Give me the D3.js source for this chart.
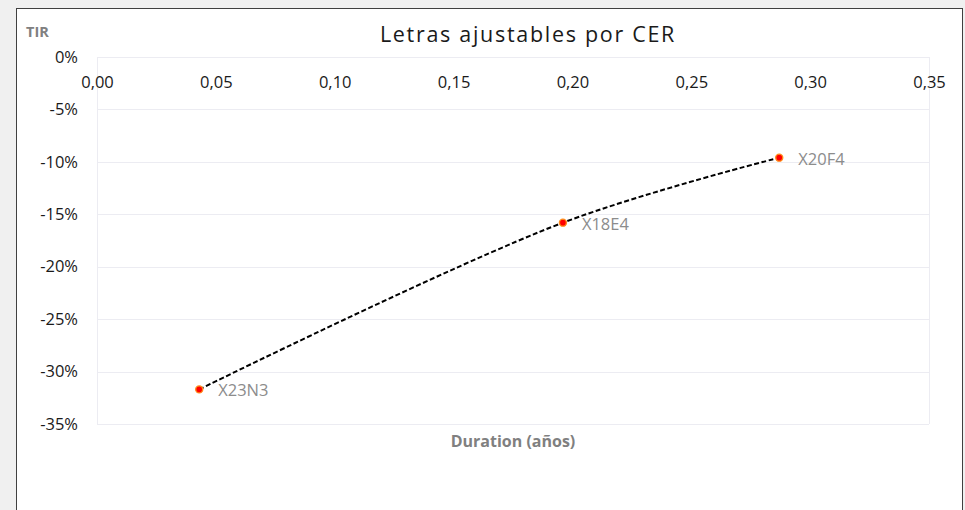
<!DOCTYPE html>
<html>
<head>
<meta charset="utf-8">
<script src="https://cdn.jsdelivr.net/npm/d3@7"></script>
<style>
  body { margin: 0; background: #f0f0f0; }
  svg { display: block; font-family: "Open Sans", "Liberation Sans", sans-serif; }
</style>
</head>
<body>
<div id="chart"></div>
<script>
const letras = ['X23N3', 'X18E4', 'X20F4'];
const duration = [0.043, 0.196, 0.287];
const tir = [-0.317, -0.158, -0.096];
const xTicks = [0, 0.05, 0.10, 0.15, 0.20, 0.25, 0.30, 0.35];
const yTicks = [0, -0.05, -0.10, -0.15, -0.20, -0.25, -0.30, -0.35];

const width = 965, height = 510;
const plot = { left: 97, right: 929, top: 57, bottom: 424 };

const svg = d3.select('#chart').append('svg')
  .attr('width', width)
  .attr('height', height);

// chart frame
svg.append('rect')
  .attr('x', 16.5).attr('y', 8.5)
  .attr('width', 946).attr('height', 520)
  .attr('fill', '#fff')
  .attr('stroke', '#404040')
  .attr('stroke-width', 1);

const x = d3.scaleLinear().domain([0, 0.35]).range([plot.left, plot.right]);
const y = d3.scaleLinear().domain([0, -0.35]).range([plot.top, plot.bottom]);

// gridlines
svg.append('g')
  .selectAll('line')
  .data(yTicks)
  .enter().append('line')
  .attr('x1', plot.left).attr('x2', plot.right)
  .attr('y1', d => Math.round(y(d)) + 0.5)
  .attr('y2', d => Math.round(y(d)) + 0.5)
  .attr('stroke', '#ececf2');

// side lines of plot area
svg.append('g')
  .selectAll('line')
  .data([0, 0.35])
  .enter().append('line')
  .attr('x1', d => Math.round(x(d)) + 0.5)
  .attr('x2', d => Math.round(x(d)) + 0.5)
  .attr('y1', plot.top).attr('y2', plot.bottom)
  .attr('stroke', '#ececf2');

// y axis labels
const fmtPct = d => `${Math.round(d * 100)}%`;
svg.append('g')
  .attr('transform', `translate(${plot.left - 19},0)`)
  .call(d3.axisLeft(y).tickValues(yTicks).tickFormat(fmtPct).tickSize(0).tickPadding(0))
  .call(g => g.select('.domain').remove())
  .selectAll('text')
  .attr('font-size', 16.5)
  .attr('fill', '#1a1a1a')
  .attr('font-family', 'Open Sans, sans-serif');

// x axis labels (placed below the 0% line)
const fmtNum = d => d.toFixed(2).replace('.', ',');
svg.append('g')
  .attr('transform', `translate(0,${y(0) + 19})`)
  .call(d3.axisBottom(x).tickValues(xTicks).tickFormat(fmtNum).tickSize(0).tickPadding(0))
  .call(g => g.select('.domain').remove())
  .selectAll('text')
  .attr('font-size', 16.5)
  .attr('fill', '#1a1a1a')
  .attr('font-family', 'Open Sans, sans-serif');

// title
svg.append('text')
  .attr('x', 528).attr('y', 42)
  .attr('text-anchor', 'middle')
  .attr('font-size', 21.5)
  .attr('letter-spacing', 1.7)
  .attr('fill', '#1a1a1a')
  .attr('font-family', 'Open Sans, sans-serif')
  .text('Letras ajustables por CER');

// axis titles
svg.append('text')
  .attr('x', 26).attr('y', 37)
  .attr('font-size', 14.5)
  .attr('font-weight', 'bold')
  .attr('fill', '#808080')
  .attr('font-family', 'Open Sans, sans-serif')
  .text('TIR');

svg.append('text')
  .attr('x', 513).attr('y', 447)
  .attr('text-anchor', 'middle')
  .attr('font-size', 16)
  .attr('font-weight', 'bold')
  .attr('fill', '#808080')
  .attr('font-family', 'Open Sans, sans-serif')
  .text('Duration (años)');

const points = letras.map((name, i) => ({ name, dur: duration[i], tir: tir[i] }));

// smoothed dashed line
const line = d3.line()
  .x(d => x(d.dur))
  .y(d => y(d.tir))
  .curve(d3.curveCatmullRom.alpha(0.5));

svg.append('path')
  .datum(points)
  .attr('d', line)
  .attr('fill', 'none')
  .attr('stroke', '#000')
  .attr('stroke-width', 2)
  .attr('stroke-dasharray', '5,2.5');

// markers
svg.append('g')
  .selectAll('circle')
  .data(points)
  .enter().append('circle')
  .attr('cx', d => x(d.dur))
  .attr('cy', d => y(d.tir))
  .attr('r', 3.5)
  .attr('fill', '#ff0000')
  .attr('stroke', '#ff8c1a')
  .attr('stroke-width', 1.4);

// data labels
svg.append('g')
  .selectAll('text')
  .data(points)
  .enter().append('text')
  .attr('x', d => x(d.dur) + 19)
  .attr('y', d => y(d.tir) + 7)
  .attr('font-size', 16.5)
  .attr('fill', '#8c8c8c')
  .attr('font-family', 'Open Sans, sans-serif')
  .text(d => d.name);
</script>
</body>
</html>
